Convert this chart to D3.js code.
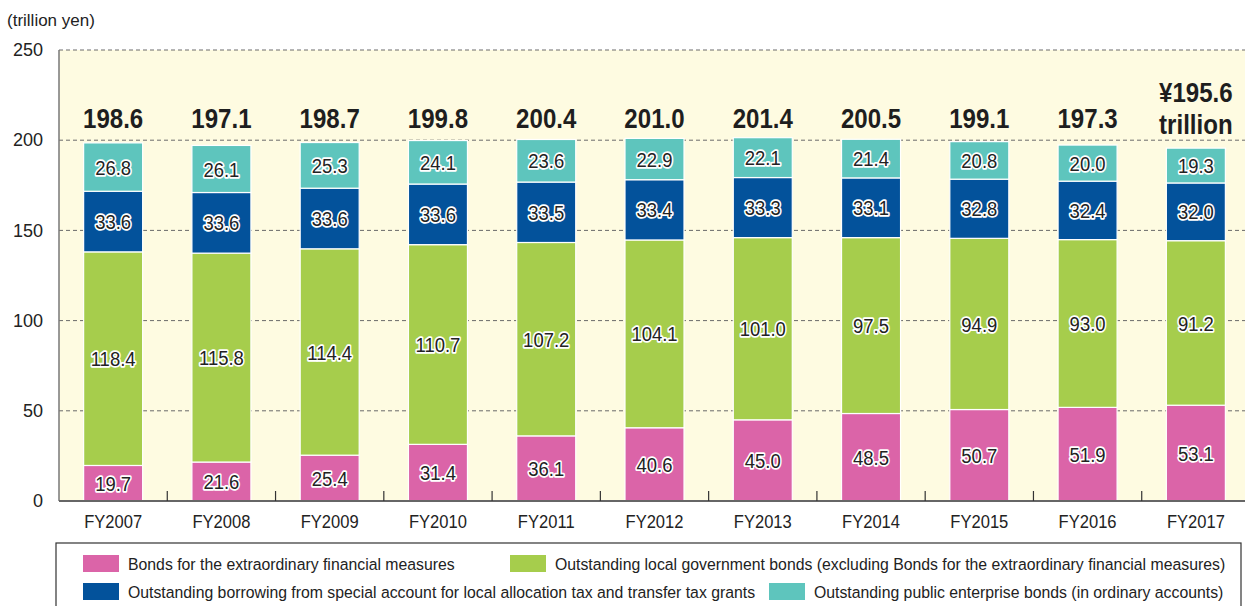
<!DOCTYPE html>
<html>
<head>
<meta charset="utf-8">
<script src="https://cdn.jsdelivr.net/npm/d3@7"></script>
<style>
  html, body { margin: 0; padding: 0; background: #ffffff; }
  svg { display: block; font-family: "Liberation Sans", Arial, sans-serif; }
</style>
</head>
<body>
<svg id="chart" width="1245" height="606"></svg>
<script>
// Local government debt outstanding by category, trillion yen
const years = ["FY2007", "FY2008", "FY2009", "FY2010", "FY2011", "FY2012",
               "FY2013", "FY2014", "FY2015", "FY2016", "FY2017"];
const extraordinaryBonds = [19.7, 21.6, 25.4, 31.4, 36.1, 40.6, 45.0, 48.5, 50.7, 51.9, 53.1];
const localBonds = [118.4, 115.8, 114.4, 110.7, 107.2, 104.1, 101.0, 97.5, 94.9, 93.0, 91.2];
const specialAccount = [33.6, 33.6, 33.6, 33.6, 33.5, 33.4, 33.3, 33.1, 32.8, 32.4, 32.0];
const enterpriseBonds = [26.8, 26.1, 25.3, 24.1, 23.6, 22.9, 22.1, 21.4, 20.8, 20.0, 19.3];
const totals = [198.6, 197.1, 198.7, 199.8, 200.4, 201.0, 201.4, 200.5, 199.1, 197.3, 195.6];
const yTicks = [0, 50, 100, 150, 200, 250];

const seriesNames = [
  "Bonds for the extraordinary financial measures",
  "Outstanding local government bonds (excluding Bonds for the extraordinary financial measures)",
  "Outstanding borrowing from special account for local allocation tax and transfer tax grants",
  "Outstanding public enterprise bonds (in ordinary accounts)"
];
const seriesValues = [extraordinaryBonds, localBonds, specialAccount, enterpriseBonds];
const colors = ["#db64a8", "#a6cd4c", "#03529b", "#5ec5bd"];

const svg = d3.select("#chart");
const plotLeft = 59, plotRight = 1250, plotTop = 50, plotBottom = 501;

const x = d3.scaleBand().domain(years).range([plotLeft, plotRight])
  .paddingInner(0.455).paddingOuter(0.2275);
const y = d3.scaleLinear().domain([0, 250]).range([plotBottom, plotTop]);

// stacked layout
const rows = years.map((yr, i) => {
  const r = { year: yr };
  seriesValues.forEach((s, k) => r["s" + k] = s[i]);
  return r;
});
const keys = seriesValues.map((_, k) => "s" + k);
const stacked = d3.stack().keys(keys)(rows);

// plot panel
svg.append("rect")
  .attr("x", plotLeft).attr("y", plotTop)
  .attr("width", 1245 - plotLeft).attr("height", plotBottom - plotTop)
  .attr("fill", "#fefbe1");

// dashed gridlines
svg.append("g").selectAll("line")
  .data(yTicks.filter(d => d > 0))
  .join("line")
  .attr("x1", plotLeft).attr("x2", 1245)
  .attr("y1", d => y(d)).attr("y2", d => y(d))
  .attr("stroke", "#6a6a6a").attr("stroke-width", 1)
  .attr("stroke-dasharray", "4,3");

// y axis labels
const yAxis = d3.axisLeft(y).tickValues(yTicks).tickSize(0).tickPadding(16);
const yg = svg.append("g").attr("transform", `translate(${plotLeft},0)`).call(yAxis);
yg.select(".domain").remove();
yg.selectAll("text")
  .attr("font-size", 18).attr("fill", "#222")
  .attr("font-family", "'Liberation Sans', Arial, sans-serif");

// left axis line
svg.append("line")
  .attr("x1", plotLeft).attr("x2", plotLeft).attr("y1", plotTop).attr("y2", plotBottom)
  .attr("stroke", "#777").attr("stroke-width", 1.5);

// bars
const layers = svg.append("g").selectAll("g")
  .data(stacked).join("g")
  .attr("fill", (d, i) => colors[i]);

layers.selectAll("rect")
  .data(d => d.map(v => ({ v, year: v.data.year })))
  .join("rect")
  .attr("x", d => x(d.year))
  .attr("width", x.bandwidth())
  .attr("y", d => y(d.v[1]))
  .attr("height", d => y(d.v[0]) - y(d.v[1]))
  .attr("stroke", "#ffffff").attr("stroke-width", 1.2);

// horizontally condensed text helper
function placeText(sel, fx, fy, sx) {
  sel.attr("transform", (d, i) => `translate(${fx(d, i)},${fy(d, i)}) scale(${sx},1)`);
}

// segment value labels with halo
layers.selectAll("text")
  .data((d, k) => d.map(v => ({ v, year: v.data.year, val: seriesValues[k][years.indexOf(v.data.year)] })))
  .join("text")
  .attr("text-anchor", "middle")
  .attr("dy", "0.36em")
  .attr("font-size", 21)
  .attr("fill", "#222")
  .attr("stroke", "#ffffff").attr("stroke-width", 3.5)
  .attr("stroke-linejoin", "round")
  .attr("paint-order", "stroke")
  .text(d => d.val.toFixed(1))
  .call(placeText, d => x(d.year) + x.bandwidth() / 2, d => y((d.v[0] + d.v[1]) / 2), 0.88);

// totals above bars; the final year carries the unit on a second line
const totalG = svg.append("g");
years.forEach((yr, i) => {
  const cx = x(yr) + x.bandwidth() / 2;
  const last = i === years.length - 1;
  const lines = last ? ["¥" + totals[i].toFixed(1), "trillion"] : [totals[i].toFixed(1)];
  const t = totalG.append("text")
    .datum(yr)
    .attr("text-anchor", "middle")
    .attr("font-size", 28).attr("font-weight", "bold")
    .attr("fill", "#1e1e1e")
    .call(placeText, () => cx, () => last ? 102 : 128, 0.86);
  t.selectAll("tspan").data(lines).join("tspan")
    .attr("x", 0)
    .attr("dy", (d, j) => j === 0 ? 0 : 32)
    .text(d => d);
});

// x axis line and ticks between bars
svg.append("line")
  .attr("x1", plotLeft).attr("x2", 1245).attr("y1", plotBottom).attr("y2", plotBottom)
  .attr("stroke", "#666").attr("stroke-width", 2);
svg.append("g").selectAll("line")
  .data(years.slice(1))
  .join("line")
  .attr("x1", d => x(d) - x.step() * x.paddingInner() / 2)
  .attr("x2", d => x(d) - x.step() * x.paddingInner() / 2)
  .attr("y1", plotBottom).attr("y2", plotBottom - 10)
  .attr("stroke", "#333").attr("stroke-width", 1.2);

// x labels
svg.append("g").selectAll("text")
  .data(years).join("text")
  .attr("text-anchor", "middle")
  .attr("font-size", 18).attr("fill", "#222")
  .text(d => d)
  .call(placeText, d => x(d) + x.bandwidth() / 2, () => 528, 0.92);

// unit label
svg.append("text")
  .attr("x", 7).attr("y", 26)
  .attr("font-size", 17).attr("fill", "#222")
  .text("(trillion yen)");

// legend
const lg = svg.append("g");
lg.append("rect")
  .attr("x", 56).attr("y", 543).attr("width", 1185).attr("height", 80)
  .attr("fill", "#fff").attr("stroke", "#333").attr("stroke-width", 1.2);

const legendPos = [
  { sx: 83, ty: 555 }, { sx: 510, ty: 555 },
  { sx: 83, ty: 583 }, { sx: 769, ty: 583 }
];
// legend order: pink, green (row 1); navy, teal (row 2)
const legendItems = [0, 1, 2, 3].map(k => ({ k, ...legendPos[k] }));
const li = lg.selectAll("g.item").data(legendItems).join("g").attr("class", "item");
li.append("rect")
  .attr("x", d => d.sx).attr("y", d => d.ty)
  .attr("width", 36).attr("height", 17)
  .attr("fill", d => colors[d.k]);
li.append("text")
  .attr("font-size", 17).attr("fill", "#222")
  .text(d => seriesNames[d.k])
  .call(placeText, d => d.sx + 45, d => d.ty + 14.5, 0.93);
</script>
</body>
</html>
